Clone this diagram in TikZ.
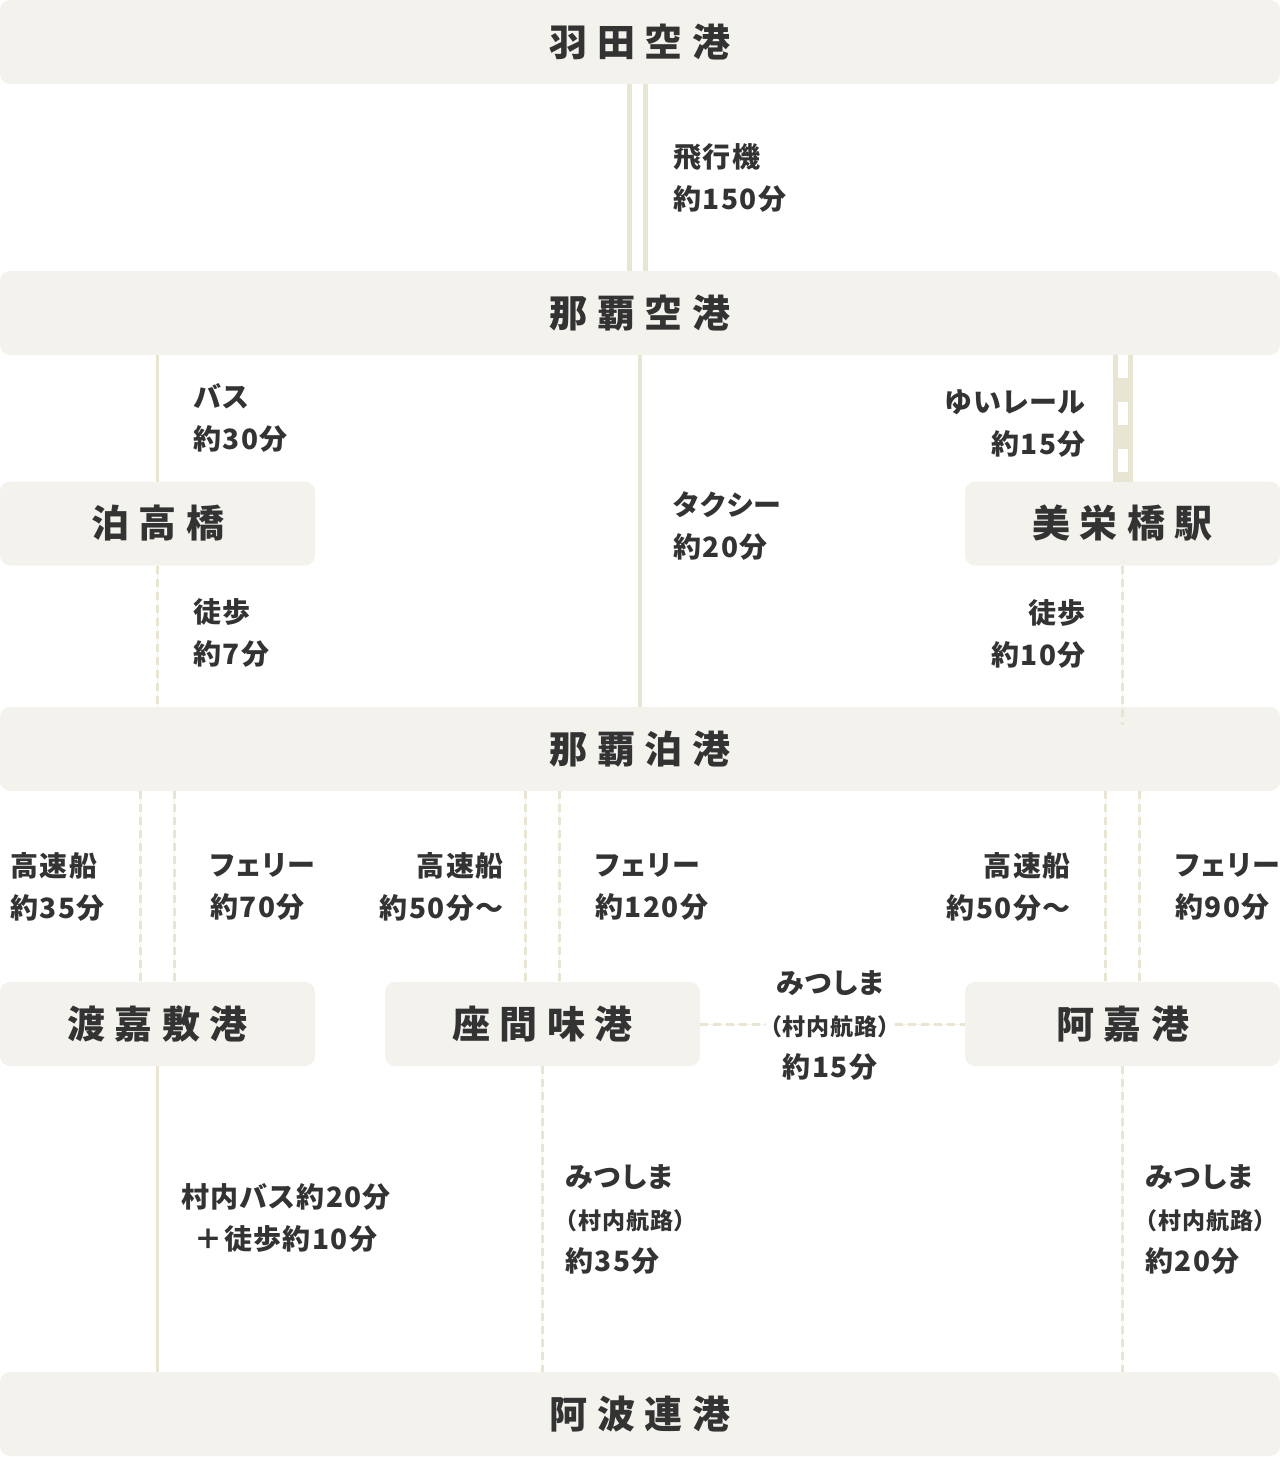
\documentclass[tikz,border=0pt]{standalone}
\usepackage{fontspec}
\setmainfont{Noto Sans CJK JP}
\newfontfamily\stfont{Noto Sans CJK JP}[LetterSpace=25]
\newfontfamily\lbfont{Noto Sans CJK JP}[LetterSpace=5,RawFeature=+palt]
\usetikzlibrary{positioning}
\definecolor{boxc}{RGB}{243,242,237}
\definecolor{linec}{RGB}{232,229,211}
\definecolor{txtc}{RGB}{51,51,51}
\tikzset{port/.style={fill=boxc,rounded corners=5pt,inner sep=0pt,outer sep=0pt,minimum height=42pt,minimum width=#1,
    font=\stfont\bfseries\fontsize{19}{22}\selectfont,text=txtc},
  port/.default=640pt,
  islandbox/.style={port=157.5pt},
  lbl/.style={inner sep=0pt,font=\lbfont\bfseries\fontsize{14}{21}\selectfont,text=txtc},
  road/.style={draw=linec,line width=1.75pt},
  air/.style={draw=linec,line width=2.5pt},
  ship/.style={draw=linec,line width=1.5pt,dash pattern=on 4pt off 2.5pt,
    preaction={draw=linec!45,line width=0.5pt,solid}},
  rail/.style={draw=linec,line width=10pt,postaction={draw=white,line width=5pt,dash pattern=on 11.5pt off 12pt}}}
\newcommand{\routesub}[1]{{\fontsize{11.5}{20}\selectfont #1}}

\begin{document}
\begin{tikzpicture}[x=0.5pt,y=-0.5pt]
\useasboundingbox (0,0) rectangle (1280,1457);
% stations
\node[port] (haneda) at (640,42) {羽田空港};
\node[port] (nahaap) at (640,313) {那覇空港};
\node[islandbox] (tomari) at (157.5,523.5) {泊高橋};
\node[islandbox] (miebashi) at (1122.5,523.5) {美栄橋駅};
\node[port] (tomariport) at (640,749) {那覇泊港};
\node[islandbox] (tokashiki) at (157.5,1024) {渡嘉敷港};
\node[islandbox] (zamami) at (542.5,1024) {座間味港};
\node[islandbox] (aka) at (1122.5,1024) {阿嘉港};
\node[port] (aharen) at (640,1414) {阿波連港};

% connections
\draw[air] ([xshift=-5.25pt]haneda.south) -- ([xshift=-5.25pt]nahaap.north);
\draw[air] ([xshift=2.75pt]haneda.south) -- ([xshift=2.75pt]nahaap.north);
\draw[road] (nahaap.south -| tomari.north) -- (tomari.north);
\draw[road] (nahaap.south) -- (tomariport.north);
\draw[rail] (nahaap.south -| miebashi.north) -- (miebashi.north);
\draw[ship] (tomari.south) -- (tomari.south |- tomariport.north);
\draw[ship] (miebashi.south) -- ([yshift=-9pt]miebashi.south |- tomariport.north);
\draw[ship] ([xshift=-8.5pt]tomariport.south -| tokashiki.north) -- ([xshift=-8.5pt]tokashiki.north);
\draw[ship] ([xshift=8.5pt]tomariport.south -| tokashiki.north) -- ([xshift=8.5pt]tokashiki.north);
\draw[ship] ([xshift=-8.5pt]tomariport.south -| zamami.north) -- ([xshift=-8.5pt]zamami.north);
\draw[ship] ([xshift=8.5pt]tomariport.south -| zamami.north) -- ([xshift=8.5pt]zamami.north);
\draw[ship] ([xshift=-8.5pt]tomariport.south -| aka.north) -- ([xshift=-8.5pt]aka.north);
\draw[ship] ([xshift=8.5pt]tomariport.south -| aka.north) -- ([xshift=8.5pt]aka.north);
\draw[ship] (zamami.east) -- (aka.west);
\draw[road] (tokashiki.south) -- (tokashiki.south |- aharen.north);
\draw[ship] (zamami.south) -- (zamami.south |- aharen.north);
\draw[ship] (aka.south) -- (aka.south |- aharen.north);

% labels
\node[lbl,anchor=west,align=left] (lair) at (673,178) {飛行機\\約150分};
\node[lbl,anchor=west,align=left] (lbus) at (193,418) {バス\\約30分};
\node[lbl,anchor=west,align=left] (ltaxi) at (673,526) {タクシー\\約20分};
\node[lbl,anchor=east,align=right] (lrail) at (1086,424) {ゆいレール\\約15分};
\node[lbl,anchor=west,align=left] (lwalka) at (193,633) {徒歩\\約7分};
\node[lbl,anchor=east,align=right] (lwalkb) at (1086,634) {徒歩\\約10分};
\node[lbl,anchor=west,align=left] (ltkj) at (10,887) {高速船\\約35分};
\node[lbl,anchor=west,align=left] (ltkf) at (210,887) {フェリー\\約70分};
\node[lbl,anchor=east,align=right] (lzmj) at (504,887) {高速船\\約50分〜};
\node[lbl,anchor=west,align=left] (lzmf) at (595,887) {フェリー\\約120分};
\node[lbl,anchor=east,align=right] (lakj) at (1071,887) {高速船\\約50分〜};
\node[lbl,anchor=west,align=left] (lakf) at (1175,887) {フェリー\\約90分};
\node[lbl,align=center,fill=white,inner sep=2pt] (lmid) at (830,1025) {みつしま\\\routesub{（村内航路）}\\約15分};
\node[lbl,align=center] (lvbus) at (286,1218) {村内バス約20分\\＋徒歩約10分};
\node[lbl,anchor=west,align=left] (lzmm) at (565,1219) {みつしま\\\routesub{（村内航路）}\\約35分};
\node[lbl,anchor=west,align=left] (lakm) at (1145,1219) {みつしま\\\routesub{（村内航路）}\\約20分};
\end{tikzpicture}
\end{document}
